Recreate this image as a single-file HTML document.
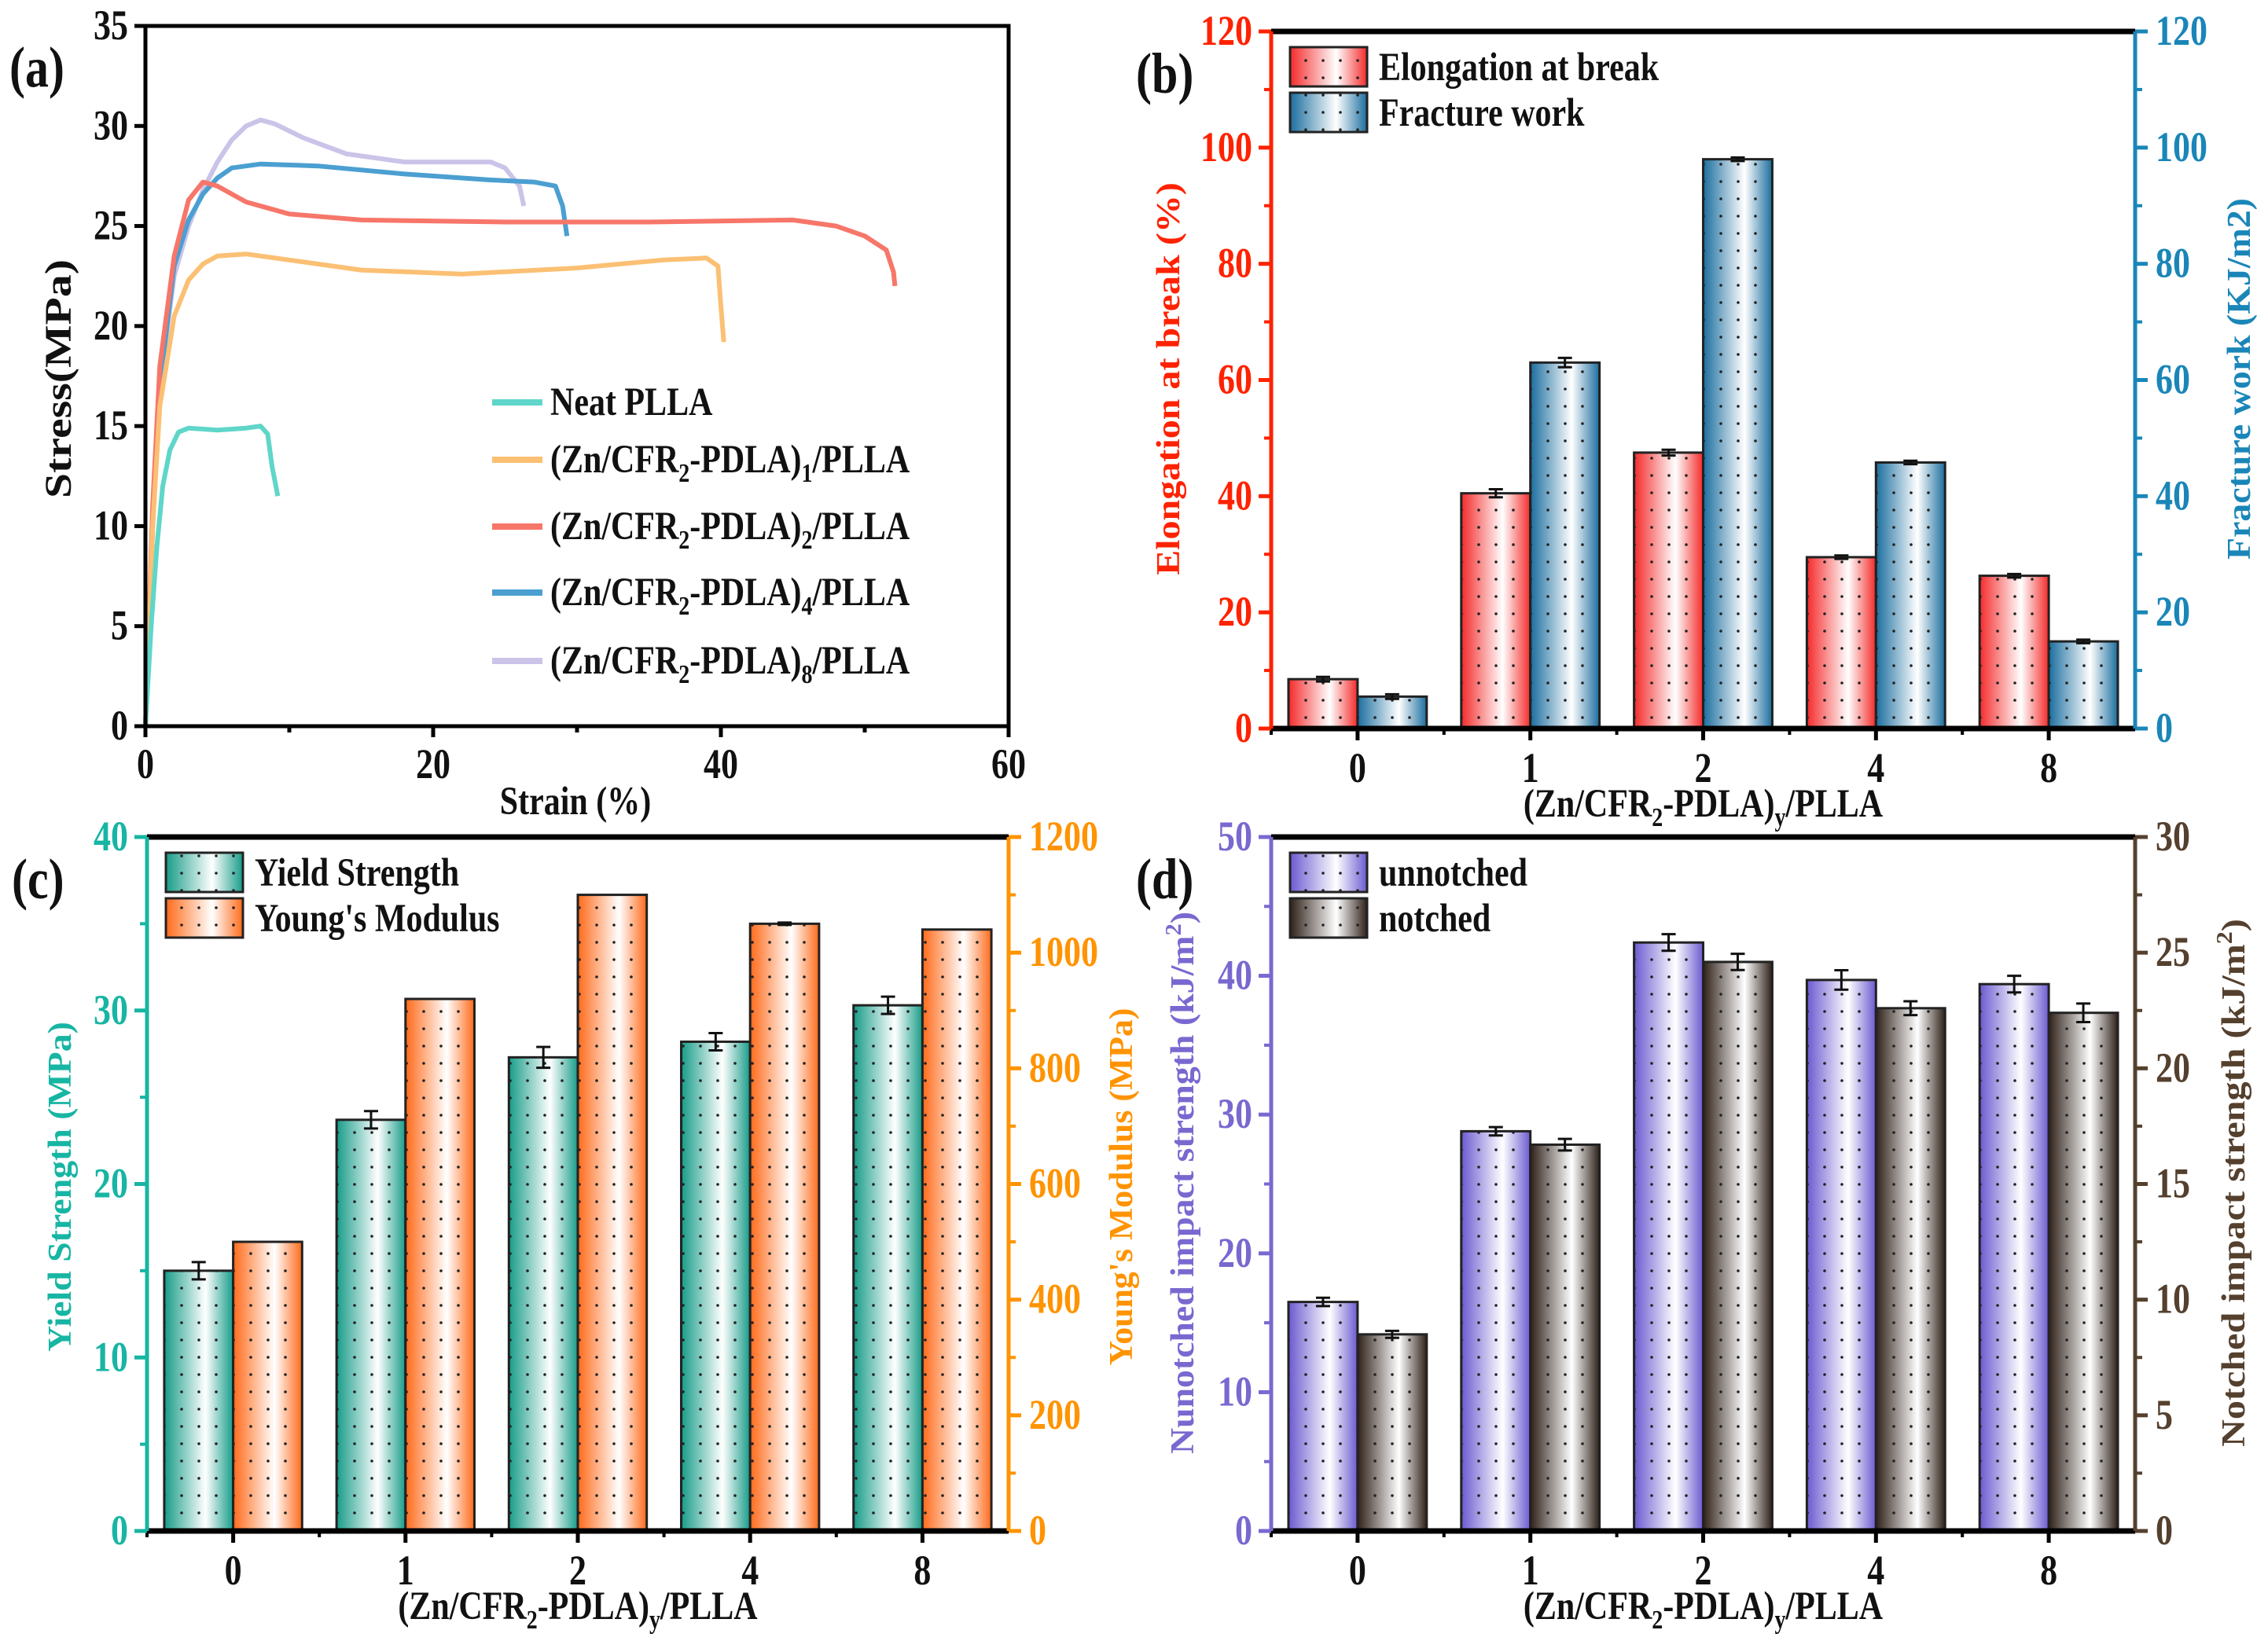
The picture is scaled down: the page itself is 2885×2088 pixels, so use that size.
<!DOCTYPE html>
<html><head><meta charset="utf-8"><style>
html,body{margin:0;padding:0;background:#fff;}
svg{display:block;font-family:"Liberation Serif",serif;font-weight:bold;}
</style></head><body>
<svg id="fig" width="2885" height="2088" viewBox="0 0 2885 2088" xmlns="http://www.w3.org/2000/svg">
<defs>
<pattern id="dots" width="22" height="22" patternUnits="userSpaceOnUse"><circle cx="11" cy="11" r="1.8" fill="#222"/></pattern>
<linearGradient id="g-red" x1="0" x2="1" y1="0" y2="0"><stop offset="0" stop-color="#f42a2a"/><stop offset="0.6" stop-color="#fff"/><stop offset="1" stop-color="#f42a2a"/></linearGradient>
<linearGradient id="g-blue" x1="0" x2="1" y1="0" y2="0"><stop offset="0" stop-color="#1a6d9e"/><stop offset="0.6" stop-color="#fff"/><stop offset="1" stop-color="#1a6d9e"/></linearGradient>
<linearGradient id="g-teal" x1="0" x2="1" y1="0" y2="0"><stop offset="0" stop-color="#179c88"/><stop offset="0.6" stop-color="#fff"/><stop offset="1" stop-color="#179c88"/></linearGradient>
<linearGradient id="g-orange" x1="0" x2="1" y1="0" y2="0"><stop offset="0" stop-color="#ff6a1a"/><stop offset="0.6" stop-color="#fff"/><stop offset="1" stop-color="#ff6a1a"/></linearGradient>
<linearGradient id="g-purple" x1="0" x2="1" y1="0" y2="0"><stop offset="0" stop-color="#6a5ad0"/><stop offset="0.6" stop-color="#fff"/><stop offset="1" stop-color="#6a5ad0"/></linearGradient>
<linearGradient id="g-brown" x1="0" x2="1" y1="0" y2="0"><stop offset="0" stop-color="#2e2018"/><stop offset="0.6" stop-color="#fff"/><stop offset="1" stop-color="#2e2018"/></linearGradient>
</defs>
</svg>
<script>
// ---------- data ----------
const categories = ["0","1","2","4","8"];
// panel a curves: strain (%) and stress (MPa)
const neatStrain = [0,0.4,0.8,1.2,1.7,2.3,3,5,7,8,8.5,8.8,9.2];
const neatStress = [0,5,9,12,13.8,14.7,14.9,14.8,14.9,15,14.6,13,11.5];
const zn1Strain = [0,0.5,1,2,3,4,5,7,10,15,22,30,36,39,39.8,40,40.2];
const zn1Stress = [0,10,16,20.5,22.3,23.1,23.5,23.6,23.3,22.8,22.6,22.9,23.3,23.4,23,21,19.2];
const zn2Strain = [0,0.5,1,2,3,4,5,7,10,15,25,35,45,48,50,51.5,52,52.1];
const zn2Stress = [0,11,18,23.5,26.3,27.2,27,26.2,25.6,25.3,25.2,25.2,25.3,25,24.5,23.8,22.7,22];
const zn4Strain = [0,0.5,1,2,3,4,5,6,8,12,18,24,27,28.5,29,29.3];
const zn4Stress = [0,10,17,23,25.3,26.6,27.4,27.9,28.1,28,27.6,27.3,27.2,27,26,24.5];
const zn8Strain = [0,0.5,1,2,3,4,5,6,7,8,9,11,14,18,22,24,25,26,26.3];
const zn8Stress = [0,10,17,22.5,25,26.8,28.2,29.3,30,30.3,30.1,29.4,28.6,28.2,28.2,28.2,27.9,27,26];
const aXTicks = [0,20,40,60];
const aYTicks = [0,5,10,15,20,25,30,35];
// panel b
const elongation = [8.5,40.5,47.5,29.5,26.3];
const elongationErr = [0.4,0.7,0.5,0.3,0.3];
const fractureWork = [5.5,63,98,45.8,15];
const fractureErr = [0.4,0.8,0.3,0.3,0.3];
const bLeftTicks = [0,20,40,60,80,100,120];
const bRightTicks = [0,20,40,60,80,100,120];
// panel c
const yieldStrength = [15,23.7,27.3,28.2,30.3];
const yieldErr = [0.5,0.5,0.6,0.5,0.5];
const youngsModulus = [500,920,1100,1050,1040];
const youngsErr = [0,0,0,2,0];
const cLeftTicks = [0,10,20,30,40];
const cRightTicks = [0,200,400,600,800,1000,1200];
// panel d
const unnotched = [16.5,28.8,42.4,39.7,39.4];
const unnotchedErr = [0.3,0.3,0.6,0.7,0.6];
const notched = [8.5,16.7,24.6,22.6,22.4];
const notchedErr = [0.15,0.25,0.35,0.3,0.4];
const dLeftTicks = [0,10,20,30,40,50];
const dRightTicks = [0,5,10,15,20,25,30];

// ---------- helpers ----------
const NS = "http://www.w3.org/2000/svg";
const svg = document.getElementById("fig");
const SY = 1.22;
function mk(tag, attrs, parent) {
  const e = document.createElementNS(NS, tag);
  for (const k in attrs) e.setAttribute(k, attrs[k]);
  (parent || svg).appendChild(e);
  return e;
}
function txt(s, x, y, size, fill, anchor, parent) {
  const t = mk("text", {x:0, y:0, "font-size":size, fill:fill, "text-anchor":anchor||"middle",
    transform:`translate(${x},${y}) scale(1,${SY})`}, parent);
  t.textContent = s;
  return t;
}
function rtxt(html, x, y, size, fill, len, parent) {
  const t = mk("text",{x:0,y:0,"font-size":size,fill:fill,"text-anchor":"middle",
    transform:`translate(${x},${y}) rotate(-90)`},parent);
  t.innerHTML = html;
  const cur = t.getComputedTextLength();
  if (cur > 0) t.setAttribute("transform", `translate(${x},${y}) rotate(-90) scale(${len/cur},1)`);
  return t;
}
function xlabel(cx, y, parent) {
  const t = mk("text", {x:0, y:0, "font-size":42, fill:"#111", "text-anchor":"middle",
    transform:`translate(${cx},${y}) scale(1,${SY})`}, parent);
  t.innerHTML = '(Zn/CFR<tspan font-size="28" dy="10">2</tspan><tspan dy="-10">-PDLA)</tspan><tspan font-size="28" dy="10">y</tspan><tspan dy="-10">/PLLA</tspan>';
  
  
  return t;
}

// ---------- panel a ----------
(function(){
  const L=185, R=1283, T=33, B=924;
  const g = mk("g", {});
  
  
  const sx = v => L + (v/60)*(R-L);
  const sy = v => B - (v/35)*(B-T);
  const series = [
    {n:"neat-plla-curve", x:neatStrain, y:neatStress, c:"#5fd6c9"},
    {n:"zn1-curve", x:zn1Strain, y:zn1Stress, c:"#fbc074"},
    {n:"zn2-curve", x:zn2Strain, y:zn2Stress, c:"#f7766a"},
    {n:"zn4-curve", x:zn4Strain, y:zn4Stress, c:"#4b9fd1"},
    {n:"zn8-curve", x:zn8Strain, y:zn8Stress, c:"#cbc3e8"}
  ];
  for (let i=series.length-1;i>=0;i--) {
    const s = series[i];
    const d = s.x.map((v,j)=>(j?"L":"M")+sx(v).toFixed(1)+","+sy(s.y[j]).toFixed(1)).join(" ");
    const p = mk("path", {d:d, fill:"none", stroke:s.c, "stroke-width":6, "stroke-linejoin":"round"}, g);
    
    
  }
  mk("rect", {x:L, y:T, width:R-L, height:B-T, fill:"none", stroke:"#000", "stroke-width":5}, g);
  aYTicks.forEach(v=>{
    mk("line",{x1:L-14,x2:L,y1:sy(v),y2:sy(v),stroke:"#000","stroke-width":5},g);
    const t = txt(String(v), L-22, sy(v)+17, 44, "#111", "end", g);
    
    
  });
  aXTicks.forEach(v=>{
    mk("line",{x1:sx(v),x2:sx(v),y1:B,y2:B+14,stroke:"#000","stroke-width":5},g);
    const t = txt(String(v), sx(v), B+66, 44, "#111", "middle", g);
    
    
  });
  [10,30,50].forEach(v=>mk("line",{x1:sx(v),x2:sx(v),y1:B,y2:B+8,stroke:"#000","stroke-width":5},g));
  const yt = rtxt("Stress(MPa)", 90, 482, 48, "#111", 304, g);
  
  
  const xt = txt("Strain (%)", 732, 1036, 42, "#111", "middle", g);
  
  
  const pl = txt("(a)", 12, 110, 60, "#111", "start", g);
  
  
  const legNames = ["Neat PLLA","1","2","4","8"];
  const legY = [512,585,670,754,841];
  series.forEach((s,i)=>{
    const lg = mk("g",{},g);
    
    
    mk("line",{x1:626,x2:690,y1:legY[i],y2:legY[i],stroke:s.c,"stroke-width":8},lg);
    const t = mk("text",{x:0,y:0,"font-size":42,fill:"#111",transform:`translate(700,${legY[i]+16}) scale(1,${SY})`},lg);
    if (i===0) t.textContent = "Neat PLLA";
    else t.innerHTML = '(Zn/CFR<tspan font-size="28" dy="10">2</tspan><tspan dy="-10">-PDLA)</tspan><tspan font-size="28" dy="10">'+legNames[i]+'</tspan><tspan dy="-10">/PLLA</tspan>';
  });
})();

// ---------- bar panels ----------
function barPanel(o) {
  const {L,R,T,B} = o;
  const g = mk("g", {});
  
  
  const cw = (R-L)/categories.length, bw = 0.4*cw;
  const syL = v => B - (v/o.lMax)*(B-T);
  const syR = v => B - (v/o.rMax)*(B-T);
  categories.forEach((c,i)=>{
    const cx = L + (i+0.5)*cw;
    [[o.s1,o.e1,syL,o.g1,cx-bw,o.n1],[o.s2,o.e2,syR,o.g2,cx,o.n2]].forEach(([vals,errs,sy,gr,x,n])=>{
      const y = sy(vals[i]);
      const bg = mk("g",{},g);
      
      
      mk("rect",{x:x,y:y,width:bw,height:B-y,fill:"url(#"+gr+")",stroke:"#222","stroke-width":3},bg);
      mk("rect",{x:x,y:y,width:bw,height:B-y,fill:"url(#dots)"},bg);
      const e = errs[i];
      if (e>0) {
        const y1=sy(vals[i]+e), y2=sy(vals[i]-e), mx=x+bw/2;
        mk("path",{d:`M${mx-9},${y1}H${mx+9}M${mx},${y1}V${y2}M${mx-9},${y2}H${mx+9}`,stroke:"#111","stroke-width":3,fill:"none"},bg);
      }
    });
    mk("line",{x1:cx,x2:cx,y1:B,y2:B+15,stroke:"#000","stroke-width":5},g);
    mk("line",{x1:L+i*cw,x2:L+i*cw,y1:B,y2:B+8,stroke:"#000","stroke-width":4},g);
    const t = txt(c, cx, B+68, 44, "#111", "middle", g);
    
    
  });
  mk("line",{x1:L,x2:R,y1:T,y2:T,stroke:"#000","stroke-width":7},g);
  mk("line",{x1:L,x2:R,y1:B,y2:B,stroke:"#000","stroke-width":7},g);
  mk("line",{x1:L,x2:L,y1:T,y2:B,stroke:o.lc,"stroke-width":5},g);
  mk("line",{x1:R,x2:R,y1:T,y2:B,stroke:o.rc,"stroke-width":5},g);
  o.lTicks.forEach((v,i)=>{
    mk("line",{x1:L-16,x2:L,y1:syL(v),y2:syL(v),stroke:o.lc,"stroke-width":5},g);
    if (i<o.lTicks.length-1){const m=(v+o.lTicks[i+1])/2; mk("line",{x1:L-9,x2:L,y1:syL(m),y2:syL(m),stroke:o.lc,"stroke-width":4},g);}
    const t = txt(String(v), L-24, syL(v)+17, 44, o.lc, "end", g);
    
    
  });
  o.rTicks.forEach((v,i)=>{
    mk("line",{x1:R,x2:R+16,y1:syR(v),y2:syR(v),stroke:o.rc,"stroke-width":5},g);
    if (i<o.rTicks.length-1){const m=(v+o.rTicks[i+1])/2; mk("line",{x1:R,x2:R+9,y1:syR(m),y2:syR(m),stroke:o.rc,"stroke-width":4},g);}
    const t = txt(String(v), R+26, syR(v)+17, 44, o.rc, "start", g);
    
    
  });
  const lt = rtxt(o.lTitle, o.ltx, o.lty, 42, o.lc, o.lLen, g);
  
  
  const rt = rtxt(o.rTitle, o.rtx, o.rty, 42, o.rc, o.rLen, g);
  
  
  xlabel((L+R)/2, B+112, g);
  const pl = txt(o.label, L-172, T+78, 60, "#111", "start", g);
  
  
  [[o.g1,o.n1Label,0],[o.g2,o.n2Label,1]].forEach(([gr,lab,k])=>{
    const lg = mk("g",{},g);
    
    
    const y = T+20+k*58;
    mk("rect",{x:L+24,y:y,width:98,height:50,fill:"url(#"+gr+")",stroke:"#222","stroke-width":3},lg);
    mk("rect",{x:L+24,y:y,width:98,height:50,fill:"url(#dots)"},lg);
    txt(lab, L+137, y+42, 42, "#111", "start", lg);
  });
}

barPanel({name:"panel-b-elongation-fracture", L:1617,R:2716,T:40,B:927, lMax:120,rMax:120,
  s1:elongation,e1:elongationErr,s2:fractureWork,e2:fractureErr,g1:"g-red",g2:"g-blue",n1:"elongation",n2:"fracture-work",
  n1Label:"Elongation at break",n2Label:"Fracture work",lc:"#ff2200",rc:"#1a86b8",lTicks:bLeftTicks,rTicks:bRightTicks,
  ltx:1500,lty:482,lLen:500,rtx:2862,rty:482,rLen:460,lTitle:"Elongation at break (%)",rTitle:"Fracture work (KJ/m2)",label:"(b)"});
barPanel({name:"panel-c-yield-modulus", L:187,R:1283,T:1065,B:1948, lMax:40,rMax:1200,
  s1:yieldStrength,e1:yieldErr,s2:youngsModulus,e2:youngsErr,g1:"g-teal",g2:"g-orange",n1:"yield-strength",n2:"youngs-modulus",
  n1Label:"Yield Strength",n2Label:"Young's Modulus",lc:"#17b5a3",rc:"#ff9300",lTicks:cLeftTicks,rTicks:cRightTicks,
  ltx:90,lty:1510,lLen:420,rtx:1440,rty:1510,rLen:455,lTitle:"Yield Strength (MPa)",rTitle:"Young's Modulus (MPa)",label:"(c)"});
barPanel({name:"panel-d-impact", L:1617,R:2716,T:1065,B:1948, lMax:50,rMax:30,
  s1:unnotched,e1:unnotchedErr,s2:notched,e2:notchedErr,g1:"g-purple",g2:"g-brown",n1:"unnotched",n2:"notched",
  n1Label:"unnotched",n2Label:"notched",lc:"#7a68d0",rc:"#55402e",lTicks:dLeftTicks,rTicks:dRightTicks,
  ltx:1518,lty:1505,lLen:690,rtx:2855,rty:1505,rLen:672,
  lTitle:'Nunotched impact strength (kJ/m<tspan font-size="28" dy="-16">2</tspan><tspan dy="16">)</tspan>',
  rTitle:'Notched impact strength (kJ/m<tspan font-size="28" dy="-16">2</tspan><tspan dy="16">)</tspan>',label:"(d)"});
</script>
</body></html>
